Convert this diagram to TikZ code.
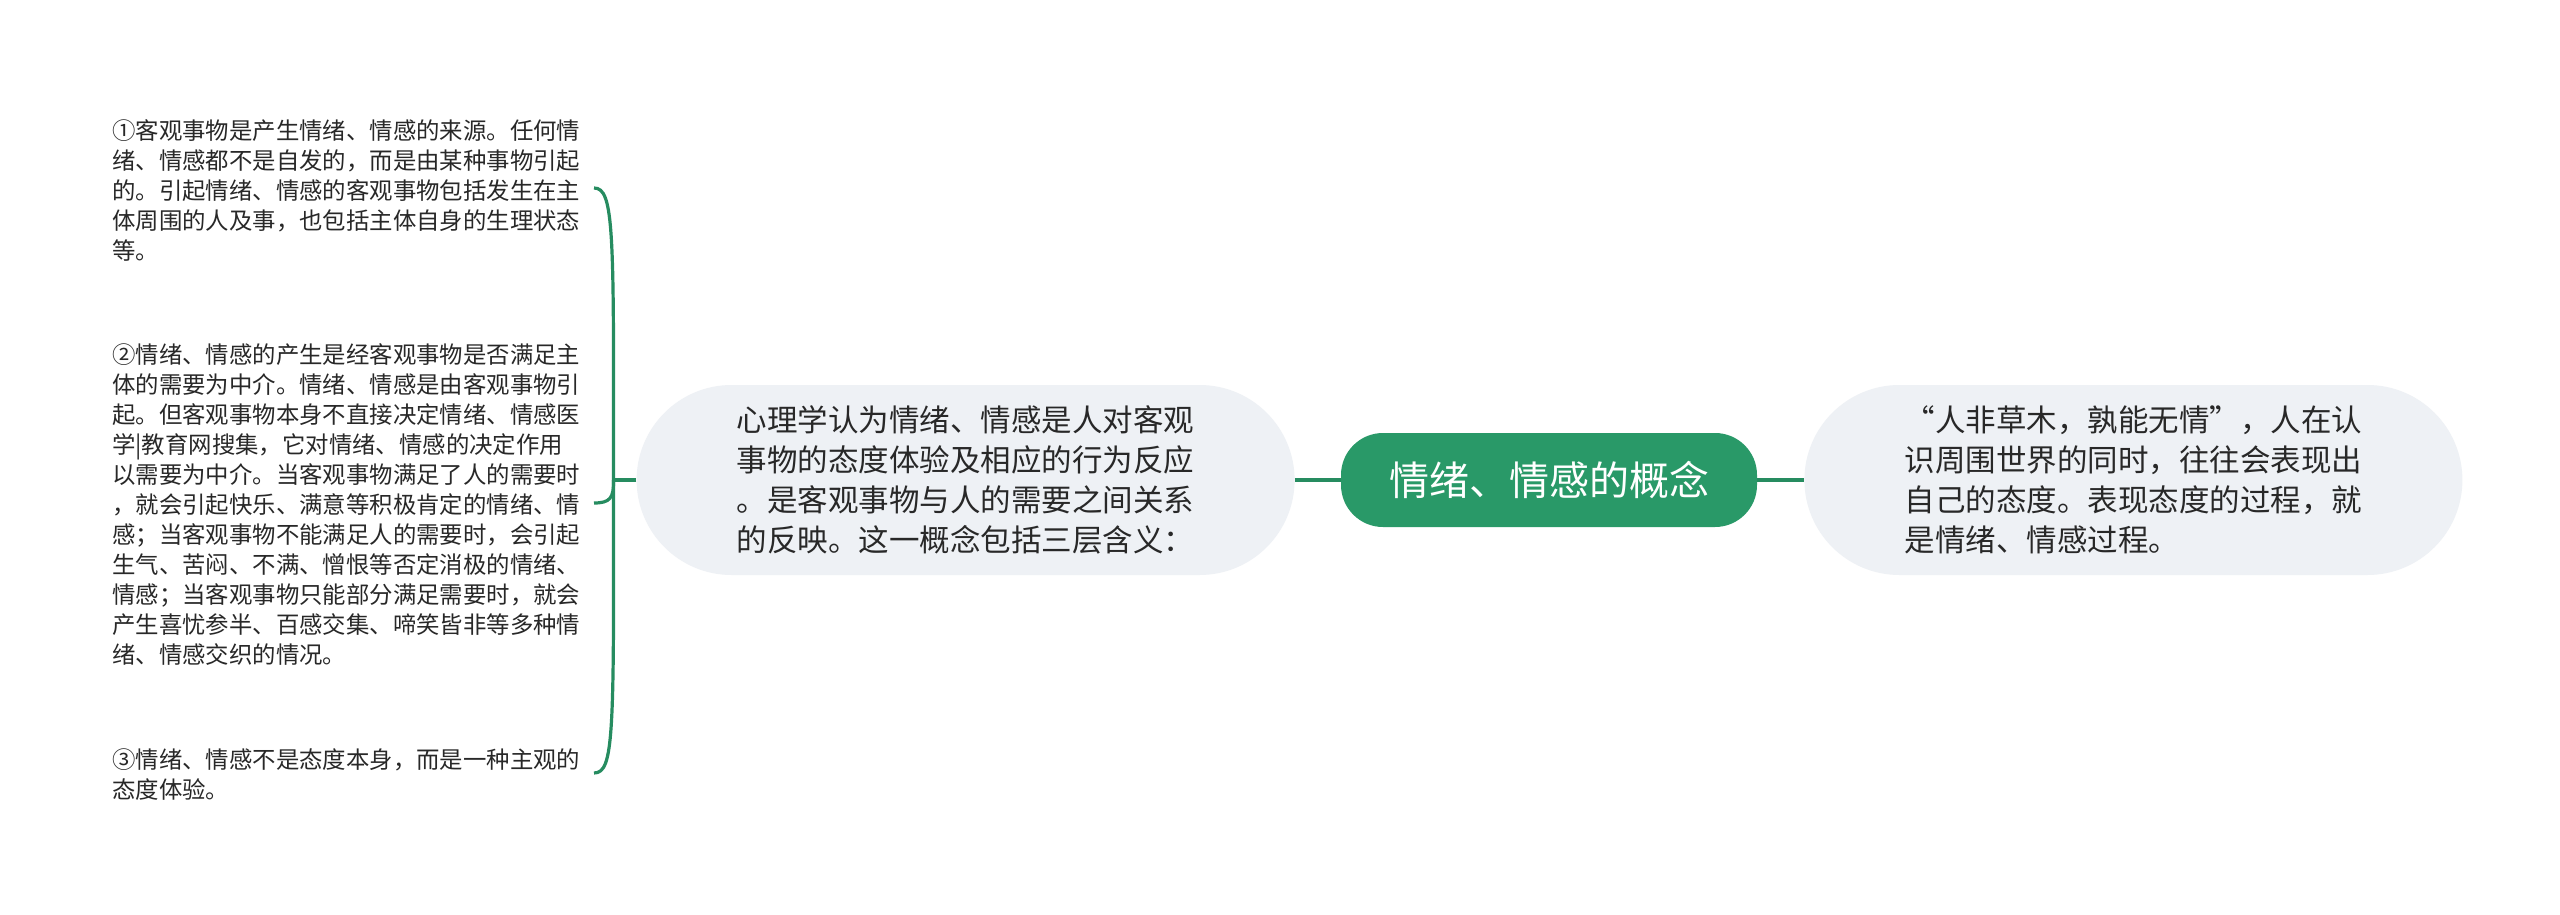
\documentclass[tikz,border=0pt]{standalone}
\usepackage{fontspec}
\setmainfont{Noto Sans CJK SC}
\usetikzlibrary{positioning}
\definecolor{mapgreen}{RGB}{41,153,104}
\definecolor{linkgreen}{RGB}{38,140,96}
\definecolor{topicgray}{RGB}{238,241,245}
\definecolor{textgray}{RGB}{40,40,40}
\tikzset{x=1pt, y=-1pt, node distance=46pt}
\tikzstyle{root} = [fill=mapgreen, rounded corners=42pt, minimum width=416pt, minimum height=94pt, text=white, font=\fontsize{40}{48}\selectfont]
\tikzstyle{topic} = [fill=topicgray, rounded corners=95pt, minimum width=658pt, minimum height=190pt, text=textgray, align=left, font=\fontsize{30.5}{40}\selectfont]
\tikzstyle{item} = [anchor=west, inner sep=0pt, text=textgray, align=left, font=\fontsize{23.4}{30}\selectfont]
\tikzstyle{link} = [draw=linkgreen, line width=3.2pt]

\begin{document}
\begin{tikzpicture}
		\fill [white] (0,0) rectangle (2560,915);
		\useasboundingbox (0,0) rectangle (2560,915);

		\node [root] (concept) at (1549,480) {情绪、情感的概念};
		\node [topic, left=46pt of concept] (define) {心理学认为情绪、情感是人对客观\\事物的态度体验及相应的行为反应\\。是客观事物与人的需要之间关系\\的反映。这一概念包括三层含义：};
		\node [topic, right=47pt of concept] (attitude) {“人非草木，孰能无情”，人在认\\识周围世界的同时，往往会表现出\\自己的态度。表现态度的过程，就\\是情绪、情感过程。};

		\node [item] (source) at (112,190) {①客观事物是产生情绪、情感的来源。任何情\\绪、情感都不是自发的，而是由某种事物引起\\的。引起情绪、情感的客观事物包括发生在主\\体周围的人及事，也包括主体自身的生理状态\\等。};
		\node [item] (need) at (112,505) {②情绪、情感的产生是经客观事物是否满足主\\体的需要为中介。情绪、情感是由客观事物引\\起。但客观事物本身不直接决定情绪、情感医\\学|教育网搜集，它对情绪、情感的决定作用\\以需要为中介。当客观事物满足了人的需要时\\，就会引起快乐、满意等积极肯定的情绪、情\\感；当客观事物不能满足人的需要时，会引起\\生气、苦闷、不满、憎恨等否定消极的情绪、\\情感；当客观事物只能部分满足需要时，就会\\产生喜忧参半、百感交集、啼笑皆非等多种情\\绪、情感交织的情况。};
		\node [item] (experience) at (112,775) {③情绪、情感不是态度本身，而是一种主观的\\态度体验。};

		\coordinate (hub) at ([xshift=-23pt] define.west);
		\coordinate (source_end) at (594,188);
		\coordinate (need_end) at (594,503);
		\coordinate (experience_end) at (594,773);

		\draw [link] (define) -- (concept);
		\draw [link] (concept) -- (attitude);
		\draw [link] (define.west) -- (hub);
		\draw [link] (hub) .. controls (614,230) and (614,188) .. (source_end);
		\draw [link] (hub) .. controls (614,498) and (610,503) .. (need_end);
		\draw [link] (hub) .. controls (614,735) and (614,773) .. (experience_end);
	\end{tikzpicture}
\end{document}
